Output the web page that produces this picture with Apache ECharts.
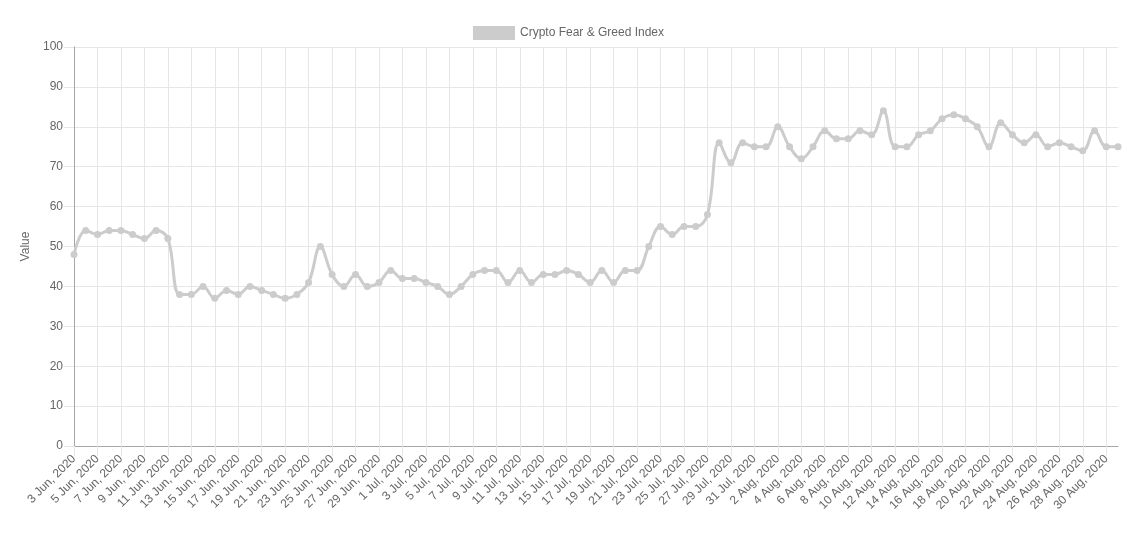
<!DOCTYPE html>
<html>
<head>
<meta charset="utf-8">
<script src="https://cdn.jsdelivr.net/npm/echarts@6/dist/echarts.min.js"></script>
<style>
html,body{margin:0;padding:0;background:#fff;}
#chart{width:1137px;height:533px;}
</style>
</head>
<body>
<div id="chart"></div>
<script>
const seriesName = 'Crypto Fear & Greed Index';
const months = ['Jun', 'Jul', 'Aug'];
const monthStarts = [3, 1, 1];
const monthEnds = [30, 31, 31];
const values = [
  48, 54, 53, 54, 54, 53, 52, 54, 52, 38,
  38, 40, 37, 39, 38, 40, 39, 38, 37, 38,
  41, 50, 43, 40, 43, 40, 41, 44, 42, 42,
  41, 40, 38, 40, 43, 44, 44, 41, 44, 41,
  43, 43, 44, 43, 41, 44, 41, 44, 44, 50,
  55, 53, 55, 55, 58, 76, 71, 76, 75, 75,
  80, 75, 72, 75, 79, 77, 77, 79, 78, 84,
  75, 75, 78, 79, 82, 83, 82, 80, 75, 81,
  78, 76, 78, 75, 76, 75, 74, 79, 75, 75
];
const categories = [];
months.forEach((m, i) => {
  for (let d = monthStarts[i]; d <= monthEnds[i]; d++) categories.push(d + ' ' + m + ', 2020');
});

const gridColor = '#e6e6e6';
const axisColor = '#a6a6a6';
const textColor = '#666';
const font = 'Liberation Sans, Arial, Helvetica, sans-serif';

const chart = echarts.init(document.getElementById('chart'));
chart.setOption({
  animation: false,
  textStyle: { fontFamily: font },
  legend: {
    top: 21,
    left: 'center',
    icon: 'rect',
    itemWidth: 42,
    itemHeight: 14,
    itemGap: 10,
    textStyle: { color: textColor, fontSize: 12, fontFamily: font },
    data: [seriesName]
  },
  grid: { left: 74, right: 19, top: 47, bottom: 87, containLabel: false },
  xAxis: {
    type: 'category',
    data: categories,
    boundaryGap: false,
    axisLine: { lineStyle: { color: axisColor, width: 1 } },
    axisTick: { show: true, interval: 1, length: 10, lineStyle: { color: gridColor } },
    axisLabel: { interval: 1, rotate: 45, color: textColor, fontSize: 12, margin: 11, fontFamily: font },
    splitLine: { show: true, interval: 1, lineStyle: { color: gridColor } }
  },
  yAxis: {
    type: 'value',
    min: 0,
    max: 100,
    interval: 10,
    name: 'Value',
    nameLocation: 'middle',
    nameGap: 40,
    nameTextStyle: { color: textColor, fontSize: 12, fontFamily: font },
    axisLine: { show: true, lineStyle: { color: axisColor, width: 1 } },
    axisTick: { show: true, length: 10, lineStyle: { color: gridColor } },
    axisLabel: { color: textColor, fontSize: 12, margin: 11, fontFamily: font },
    splitLine: { show: true, lineStyle: { color: gridColor } }
  },
  series: [{
    name: seriesName,
    type: 'line',
    data: values,
    smooth: 0.4,
    symbol: 'circle',
    symbolSize: 7,
    showAllSymbol: true,
    itemStyle: { color: '#cccccc' },
    lineStyle: { color: '#cccccc', width: 3 }
  }]
});
</script>
</body>
</html>
